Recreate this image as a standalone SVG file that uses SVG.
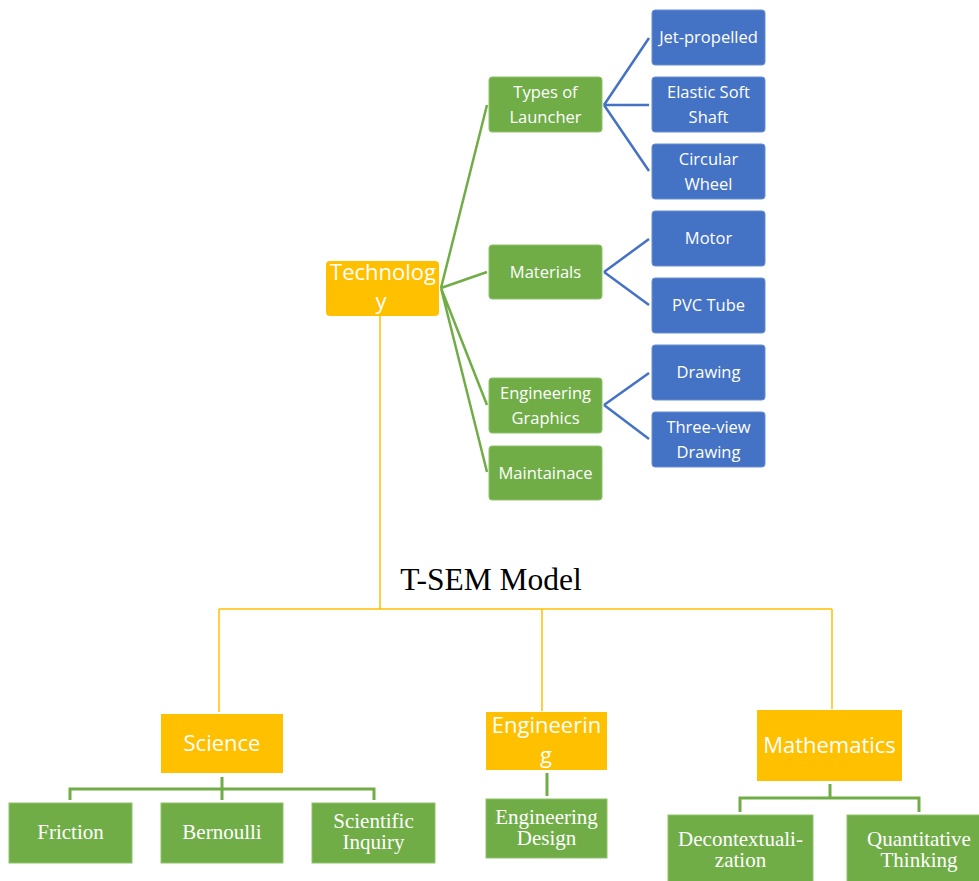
<svg xmlns="http://www.w3.org/2000/svg" width="979" height="881" viewBox="0 0 979 881">
<style>
.y{fill:#FFC000}
.g{fill:#70AD47;stroke:#8fc36b;stroke-width:1}
.b{fill:#4472C4;stroke:#6a8fd3;stroke-width:1}
.ts{font-family:"Open Sans","Noto Sans",sans-serif;fill:#fff;text-anchor:middle}
.s16{font-size:16.5px}
.s21{font-size:22px}
.tr{font-family:"Liberation Serif","Times New Roman",serif;fill:#fff;text-anchor:middle;font-size:21px}
.cy{stroke:#FFC000;stroke-width:1.5;fill:none}
.cg{stroke:#70AD47;stroke-width:2.5;fill:none}
.cb{stroke:#4472C4;stroke-width:2.5;fill:none}
.cg3{stroke:#70AD47;stroke-width:3;fill:none}
</style>
<rect width="979" height="881" fill="#fff"/>
<g id="connectors">
<path class="cy" d="M380 316 V609 M219 609 H832 M219 609 V712 M542 609 V711 M832 609 V709"/>
<path class="cg" d="M441 288 L487 105 M441 288 L487 272 M441 288 L487 405 M441 288 L487 472"/>
<path class="cb" d="M604 105 L649 38 M604 105 H649 M604 105 L649 171 M604 272 L649 239 M604 272 L649 305 M604 405 L649 373 M604 405 L649 439"/>
<path class="cg3" d="M222 777 V800 M70 800 V789 H374 V800 M547 773 V796 M830 784 V798 M740 812 V798 H919 V812"/>
</g>
<g id="technology"><rect class="y" x="326" y="261" width="113" height="55" rx="4"/><text class="ts s21" x="383" y="280">Technolog</text><text class="ts s21" x="381" y="309">y</text></g>
<g id="types"><rect class="g" x="489" y="77" width="113" height="55" rx="3"/><text class="ts s16" x="545.5" y="98">Types of</text><text class="ts s16" x="545.5" y="123">Launcher</text></g>
<g id="materials"><rect class="g" x="489" y="245" width="113" height="54" rx="3"/><text class="ts s16" x="545.5" y="277.5">Materials</text></g>
<g id="enggraphics"><rect class="g" x="489" y="378" width="113" height="55" rx="3"/><text class="ts s16" x="545.5" y="399">Engineering</text><text class="ts s16" x="545.5" y="424">Graphics</text></g>
<g id="maint"><rect class="g" x="489" y="446" width="113" height="54" rx="3"/><text class="ts s16" x="545.5" y="478.5">Maintainace</text></g>
<g id="jet"><rect class="b" x="652" y="10" width="113" height="55" rx="3"/><text class="ts s16" x="708.5" y="43">Jet-propelled</text></g>
<g id="elastic"><rect class="b" x="652" y="77" width="113" height="55" rx="3"/><text class="ts s16" x="708.5" y="98">Elastic Soft</text><text class="ts s16" x="708.5" y="123">Shaft</text></g>
<g id="circular"><rect class="b" x="652" y="144" width="113" height="55" rx="3"/><text class="ts s16" x="708.5" y="165">Circular</text><text class="ts s16" x="708.5" y="190">Wheel</text></g>
<g id="motor"><rect class="b" x="652" y="211" width="113" height="55" rx="3"/><text class="ts s16" x="708.5" y="244">Motor</text></g>
<g id="pvc"><rect class="b" x="652" y="278" width="113" height="55" rx="3"/><text class="ts s16" x="708.5" y="311">PVC Tube</text></g>
<g id="drawing"><rect class="b" x="652" y="345" width="113" height="55" rx="3"/><text class="ts s16" x="708.5" y="378">Drawing</text></g>
<g id="threeview"><rect class="b" x="652" y="412" width="113" height="55" rx="3"/><text class="ts s16" x="708.5" y="433">Three-view</text><text class="ts s16" x="708.5" y="458">Drawing</text></g>
<g id="title"><text x="491" y="590" font-family="Liberation Serif,'Times New Roman',serif" font-size="31.5" fill="#000" text-anchor="middle">T-SEM Model</text></g>
<g id="science"><rect class="y" x="161" y="714" width="122" height="59"/><text class="ts s21" x="222" y="751">Science</text></g>
<g id="engineering"><rect class="y" x="486" y="712" width="121" height="58"/><text class="ts s21" x="546.5" y="733">Engineerin</text><text class="ts s21" x="546" y="763">g</text></g>
<g id="mathematics"><rect class="y" x="757" y="710" width="145" height="71"/><text class="ts s21" x="829.5" y="753">Mathematics</text></g>
<g id="friction"><rect class="g" x="9" y="803" width="123" height="60"/><text class="tr" x="70.5" y="839">Friction</text></g>
<g id="bernoulli"><rect class="g" x="161" y="803" width="122" height="60"/><text class="tr" x="222" y="839">Bernoulli</text></g>
<g id="inquiry"><rect class="g" x="312" y="803" width="123" height="60"/><text class="tr" x="373.5" y="828">Scientific</text><text class="tr" x="373.5" y="849">Inquiry</text></g>
<g id="engdesign"><rect class="g" x="486" y="799" width="121" height="59"/><text class="tr" x="546.5" y="824">Engineering</text><text class="tr" x="546.5" y="845">Design</text></g>
<g id="decontext"><rect class="g" x="668" y="815" width="145" height="70"/><text class="tr" x="740.5" y="846">Decontextuali-</text><text class="tr" x="740.5" y="867">zation</text></g>
<g id="quant"><rect class="g" x="847" y="815" width="145" height="70"/><text class="tr" x="919" y="846">Quantitative</text><text class="tr" x="919" y="867">Thinking</text></g>
</svg>
